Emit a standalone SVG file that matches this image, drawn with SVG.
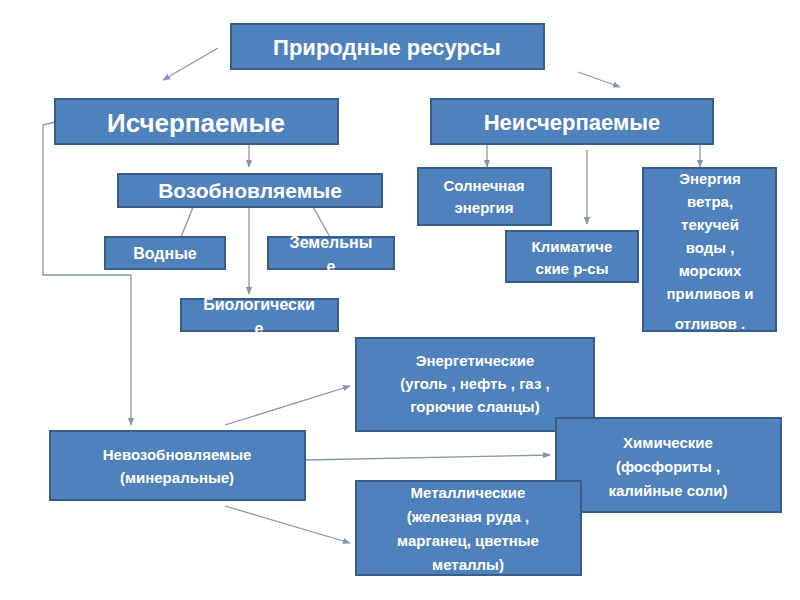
<svg xmlns="http://www.w3.org/2000/svg" width="800" height="600" viewBox="0 0 800 600">
<defs>
<style>
.b{fill:#4f81bd;stroke:#385d8a;stroke-width:2}
.t{font-family:"Liberation Sans",Arial,sans-serif;font-weight:bold;fill:#fff;text-anchor:middle}
.c{stroke:#8496b0;stroke-width:1.3;fill:none}
</style>
<marker id="a" viewBox="0 0 10 10" refX="9" refY="5" markerWidth="6" markerHeight="6" orient="auto"><path d="M0,1 L10,5 L0,9 z" fill="#8496b0"/></marker>
</defs>
<rect width="800" height="600" fill="#fff"/>
<g id="connectors">
<line class="c" x1="218" y1="48" x2="163" y2="80" marker-end="url(#a)"/>
<line class="c" x1="578" y1="72" x2="620" y2="87" marker-end="url(#a)"/>
<polyline class="c" points="55,122 43,125 43,275 131,275 131,425" marker-end="url(#a)"/>
<line class="c" x1="249" y1="144" x2="249" y2="167" marker-end="url(#a)"/>
<line class="c" x1="193" y1="207" x2="181" y2="237"/>
<line class="c" x1="313" y1="207" x2="330" y2="237"/>
<line class="c" x1="249" y1="207" x2="249" y2="294" marker-end="url(#a)"/>
<line class="c" x1="487" y1="144" x2="487" y2="167" marker-end="url(#a)"/>
<line class="c" x1="587" y1="150" x2="587" y2="224" marker-end="url(#a)"/>
<line class="c" x1="700" y1="144" x2="700" y2="167" marker-end="url(#a)"/>
<line class="c" x1="225" y1="425" x2="350" y2="386" marker-end="url(#a)"/>
<line class="c" x1="305" y1="460" x2="550" y2="455" marker-end="url(#a)"/>
<line class="c" x1="225" y1="506" x2="350" y2="543" marker-end="url(#a)"/>
</g>
<g id="n1"><rect class="b" x="231" y="24" width="313" height="45"/><text class="t" x="387" y="55" font-size="22">Природные ресурсы</text></g>
<g id="n2"><rect class="b" x="55" y="99" width="283" height="45"/><text class="t" x="196" y="132" font-size="26">Исчерпаемые</text></g>
<g id="n3"><rect class="b" x="431" y="99" width="282" height="45"/><text class="t" x="572" y="130" font-size="22">Неисчерпаемые</text></g>
<g id="n4"><rect class="b" x="118" y="174" width="264" height="33"/><text class="t" x="250" y="198" font-size="21">Возобновляемые</text></g>
<g id="n5"><rect class="b" x="105" y="237" width="120" height="32"/><text class="t" x="165" y="259" font-size="16">Водные</text></g>
<g id="n6"><rect class="b" x="268" y="237" width="126" height="32"/><text class="t" x="331" y="248" font-size="16">Земельны</text><text class="t" x="331" y="272" font-size="16">е</text></g>
<g id="n7"><rect class="b" x="181" y="299" width="157" height="32"/><text class="t" x="259" y="310" font-size="16">Биологически</text><text class="t" x="259" y="334" font-size="16">е</text></g>
<g id="n8"><rect class="b" x="418" y="168" width="133" height="57"/><text class="t" x="484" y="191" font-size="15">Солнечная</text><text class="t" x="484" y="213" font-size="15">энергия</text></g>
<g id="n9"><rect class="b" x="506" y="231" width="132" height="51"/><text class="t" x="572" y="252" font-size="15">Климатиче</text><text class="t" x="572" y="274" font-size="15">ские р-сы</text></g>
<g id="n10"><rect class="b" x="643" y="168" width="133" height="163"/><text class="t" x="710" y="184" font-size="15">Энергия</text><text class="t" x="710" y="207" font-size="15">ветра,</text><text class="t" x="710" y="230" font-size="15">текучей</text><text class="t" x="710" y="253" font-size="15">воды ,</text><text class="t" x="710" y="276" font-size="15">морских</text><text class="t" x="710" y="299" font-size="15">приливов и</text><text class="t" x="710" y="329" font-size="15">отливов .</text></g>
<g id="n11"><rect class="b" x="356" y="338" width="238" height="93"/><text class="t" x="475" y="366" font-size="15">Энергетические</text><text class="t" x="475" y="389" font-size="15">(уголь , нефть , газ ,</text><text class="t" x="475" y="412" font-size="15">горючие сланцы)</text></g>
<g id="n12"><rect class="b" x="556" y="418" width="225" height="94"/><text class="t" x="668" y="448" font-size="15">Химические</text><text class="t" x="668" y="472" font-size="15">(фосфориты ,</text><text class="t" x="668" y="496" font-size="15">калийные соли)</text></g>
<g id="n13"><rect class="b" x="50" y="431" width="255" height="69"/><text class="t" x="177" y="460" font-size="15">Невозобновляемые</text><text class="t" x="177" y="483" font-size="15">(минеральные)</text></g>
<g id="n14"><rect class="b" x="356" y="481" width="225" height="94"/><text class="t" x="468" y="498" font-size="15">Металлические</text><text class="t" x="468" y="522" font-size="15">(железная руда ,</text><text class="t" x="468" y="546" font-size="15">марганец, цветные</text><text class="t" x="468" y="570" font-size="15">металлы)</text></g>
</svg>
